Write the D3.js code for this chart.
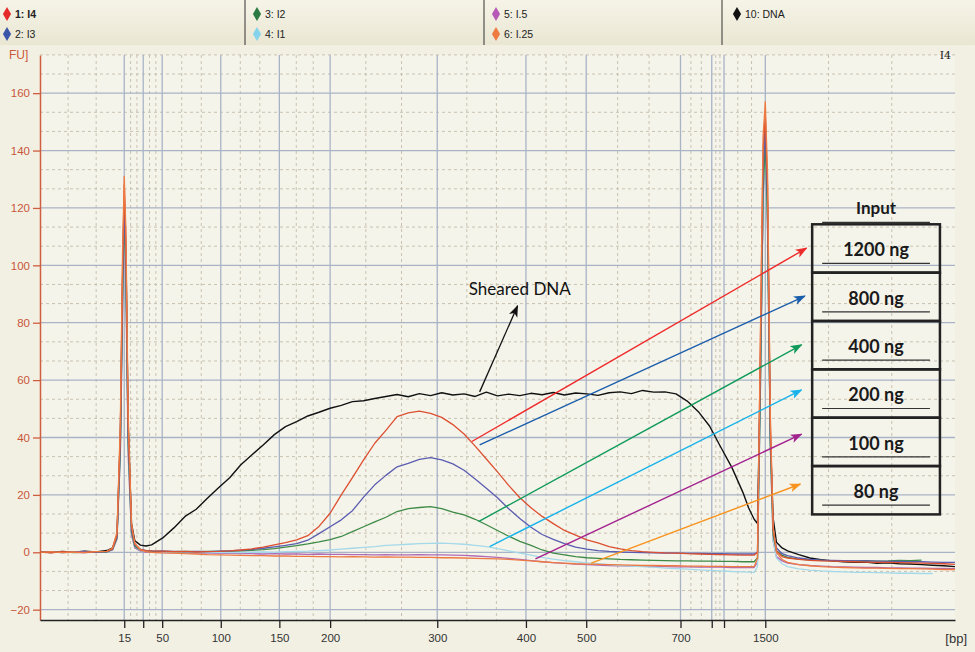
<!DOCTYPE html>
<html>
<head>
<meta charset="utf-8">
<script src="https://cdn.jsdelivr.net/npm/d3@7"></script>
<style>
  body { margin: 0; background: #f2f0e3; }
  svg { display: block; font-family: "Liberation Sans", Arial, sans-serif; }
</style>
</head>
<body>
<div id="chart"></div>
<script>
// migration time (s) of every sample, shared by all traces
const times = [
    35, 36, 37, 38, 39, 40, 41,
    41.5, 41.9, 42.2, 42.4, 42.55, 42.7, 42.9, 43.2, 43.5, 44, 44.5,
    45, 46, 47, 48, 49, 50, 51, 52, 53, 54,
    55, 56, 57, 58, 59, 60, 61, 62, 63, 64,
    65, 66, 67, 68, 69, 70, 71, 72, 73, 74,
    75, 76, 77, 78, 79, 80, 81, 82, 83, 84,
    85, 86, 87, 88, 89, 90, 91, 92, 93, 94,
    95, 96, 97, 98,
    98.5, 99, 99.3, 99.55, 99.8, 100, 100.2, 100.45, 100.7, 101, 101.5,
    102, 103, 104, 105, 106, 107, 108, 109, 110, 111, 112, 113, 114, 115, 116, 117
];

// fluorescence [FU] per sample
const dna = [
    0.2, -0.1, 0.3, 0, 0.4, 0.1, 0.6,
    1.5, 6, 40, 95, 124, 104, 45, 10, 4, 2.5, 2.2,
    2.6, 5, 8.5, 12.5, 15, 18.8, 22.5, 26, 30.5, 34,
    37.4, 41, 43.8, 45.5, 47.5, 48.8, 50.2, 51.2, 52.5, 52.8,
    53.6, 54.3, 55, 54.2, 55.3, 54.6, 55.6, 54.8, 55.2, 54.3,
    55.8, 54.5, 55.1, 54.6, 55.4, 54.9, 55.7, 54.8, 55.5, 55.2,
    54.7, 55.6, 55.9, 55.3, 56.4, 55.8, 55.9, 55.2, 52.7, 49,
    44, 36.7, 29.6, 20.8,
    15.5, 11.5, 10, 60, 125, 150, 120, 40, 12, 3.5, 1.5,
    0.5, -0.8, -2, -2.6, -3, -3.3, -3.5, -3.4, -3.8, -3.7, -4, -4.1, -4.3, -4.5, -4.7, -5
];
const i4 = [
    0.1, -0.2, 0.2, 0, -0.1, 0.2, 0.3,
    1.2, 6, 42, 100, 128, 108, 45, 9, 3, 1, 0.6,
    0.5, 0.4, 0.2, 0.3, 0.1, 0.2, 0.3, 0.5, 0.8, 1.2,
    1.8, 2.6, 3.4, 4.3, 5.8, 9, 13.6, 20, 26, 32.2,
    38, 42.5, 47.3, 48.6, 49.2, 48.4, 47, 44.5, 41.2, 37,
    32.5, 28, 23.3, 19, 15.5, 12.5, 10, 7.6, 6, 4.3,
    3.3, 2, 1.2, 0.6, 0.2, 0, -0.2, -0.3, -0.5, -0.6,
    -0.7, -0.8, -0.9, -1,
    -1, -1, 0, 70, 140, 152, 128, 45, 8, 0.5, -1.5,
    -2, -2.5, -2.8, -3, -3.1, -3.2, -3.3, -3.4, -3.5, -3.5, -3.6, -3.7, -3.8, -3.9, -4, -4.2
];
const i3 = [
    0, 0.2, -0.1, 0.1, 0.3, 0, 0.2,
    1, 5.5, 38, 92, 122, 100, 40, 8, 2.5, 1, 0.6,
    0.5, 0.4, 0.3, 0.2, 0.3, 0.2, 0.4, 0.5, 0.7, 1,
    1.4, 1.9, 2.4, 3, 4.2, 6.5, 8.9, 11.3, 14.5, 19.2,
    23.5, 26.8, 29.8, 31, 32.4, 33, 32.2, 30.8, 28.6, 25.5,
    22.3, 19, 15.2, 11.8, 8.7, 6.2, 4.5, 3, 1.8, 1.1,
    0.6, 0.3, 0.1, 0, -0.1, -0.2, -0.3, -0.3, -0.4, -0.4,
    -0.5, -0.5, -0.6, -0.6,
    -0.6, -0.6, 0, 62, 132, 148, 122, 42, 8, 1.5, -0.5,
    -1.2, -2, -2.5, -2.7, -2.8, -2.9, -3, -3, -3.1, -3.2, -3.2, -3.3, -3.3, -3.4, -3.5, -3.5
];
const i2 = [
    0.1, 0, 0.2, -0.1, 0.1, 0.2, 0.1,
    1, 5, 36, 88, 118, 96, 38, 7, 2, 0.8, 0.5,
    0.4, 0.3, 0.2, 0.3, 0.2, 0.3, 0.3, 0.4, 0.5, 0.7,
    0.9, 1.3, 1.8, 2.3, 2.9, 3.6, 4.4, 5.5, 7.2, 8.9,
    10.6, 12.2, 14.2, 15.2, 15.6, 15.9, 15.2, 14, 13, 11.5,
    9.6, 7.6, 5.6, 3.8, 2.4, 0.8, -0.3, -0.9, -1.5, -1.9,
    -2.1, -2.3, -2.5, -2.6, -2.7, -2.8, -2.9, -3, -3, -3.1,
    -3.1, -3.2, -3.2, -3.3,
    -3.3, -3.3, -2, 55, 125, 143, 115, 38, 6, 0.5, -1,
    -1.8, -2.4, -2.6, -2.8, -2.9, -3, -3, -2.9, -3.1, -3, -2.8, -2.9, -2.7, null, null, null
];
const i1 = [
    0, 0.1, -0.1, 0.2, 0, 0.1, 0.2,
    0.9, 5, 35, 86, 116, 94, 36, 7, 2, 0.6, 0.3,
    0.2, 0.1, 0, 0.1, -0.1, 0, -0.1, 0, -0.1, 0,
    0.1, 0, 0.2, 0.3, 0.4, 0.6, 0.8, 1.1, 1.4, 1.7,
    2, 2.4, 2.6, 2.8, 3, 3.1, 3.2, 3, 2.8, 2.4,
    2, 1.3, 0.5, -0.3, -1, -1.8, -2.4, -2.9, -3.3, -3.7,
    -4, -4.3, -4.6, -4.8, -5, -5.2, -5.5, -5.7, -5.9, -6.1,
    -6.3, -6.5, -6.7, -6.8,
    -6.9, -7, -5, 52, 122, 140, 112, 36, 4, -2, -4,
    -5, -5.8, -6.2, -6.5, -6.7, -6.8, -7, -7, -7.1, -7.2, -7.3, -7.3, -7.4, -7.4, null, null
];
const i05 = [
    0.1, 0, 0.2, 0, -0.1, 0.1, 0.2,
    0.8, 4.5, 34, 84, 114, 92, 34, 6, 1.5, 0.4, 0.1,
    0, -0.1, -0.2, -0.2, -0.3, -0.3, -0.4, -0.4, -0.5, -0.5,
    -0.6, -0.5, -0.6, -0.6, -0.7, -0.6, -0.7, -0.7, -0.8, -0.8,
    -0.9, -0.8, -0.9, -0.9, -0.8, -0.9, -0.9, -1, -1.1, -1.3,
    -1.5, -1.8, -2.1, -2.5, -2.9, -3.3, -3.6, -3.9, -4.1, -4.3,
    -4.5, -4.6, -4.7, -4.8, -4.9, -5, -5, -5.1, -5.1, -5.2,
    -5.2, -5.2, -5.3, -5.3,
    -5.3, -5.3, -3.5, 54, 123, 141, 113, 37, 4, -1.5, -3,
    -3.8, -4.3, -4.6, -4.8, -5, -5.1, -5.2, -5.3, -5.3, -5.4, -5.4, -5.5, -5.5, -5.6, -5.6, -5.7
];
const i025 = [
    0, 0.2, -0.1, 0.1, 0, 0.2, 0.3,
    1.5, 7, 45, 105, 131, 112, 48, 10, 3, 0.8, 0.2,
    0, -0.2, -0.3, -0.5, -0.6, -0.8, -0.9, -1, -1.1, -1.2,
    -1.2, -1.3, -1.3, -1.4, -1.4, -1.5, -1.5, -1.6, -1.5, -1.6,
    -1.7, -1.6, -1.7, -1.7, -1.8, -1.8, -1.9, -1.9, -2, -2.1,
    -2.2, -2.3, -2.5, -2.7, -3, -3.3, -3.6, -3.8, -4, -4.1,
    -4.2, -4.3, -4.4, -4.5, -4.6, -4.6, -4.7, -4.7, -4.8, -4.8,
    -4.9, -4.9, -5, -5,
    -5, -5, -2, 72, 145, 157, 132, 48, 9, 0, -2.5,
    -3.5, -4.3, -4.7, -5, -5.2, -5.3, -5.4, -5.5, -5.5, -5.6, -5.7, -5.7, -5.8, -5.9, -6, -6
];

// ladder: size in bp and its migration time
const ladderBp = [15, 25, 50, 100, 150, 200, 300, 400, 500, 700, 850, 1000, 1500];
const ladderTime = [42.55, 44.25, 45.95, 51.2, 56.45, 61.0, 70.6, 78.55, 83.95, 92.4, 95.2, 96.3, 100.0];
const ladderLabels = ["15", "", "50", "100", "150", "200", "300", "400", "500", "700", "", "", "1500"];
const yTicks = [-20, 0, 20, 40, 60, 80, 100, 120, 140, 160];

// legend
const sampleNames = ["1: I4", "2: I3", "3: I2", "4: I1", "5: I.5", "6: I.25", "10: DNA"];
const sampleValues = [i4, i3, i2, i1, i05, i025, dna];
const traceColors = ["#dc4f30", "#5a5cb0", "#3d8a46", "#a4d9ea", "#b06ab6", "#ee7a42", "#111111"];
const legendColors = ["#e52a2a", "#3b55a8", "#2a7a42", "#86d3ec", "#b75ab7", "#ef7a40", "#111111"];

// annotation: input amounts and arrows (time, FU)
const inputLabels = ["1200 ng", "800 ng", "400 ng", "200 ng", "100 ng", "80 ng"];
const arrowColors = ["#ee2b2b", "#1a5dab", "#0f9a5a", "#17b3ea", "#a3238f", "#f7931e"];
const arrowFrom = [[73.7, 38.6], [74.4, 37.4], [74.3, 10.7], [75.3, 2.0], [79.4, -2.3], [84.4, -3.8]];
const arrowTo = [[103.7, 106], [103.55, 89.3], [103.25, 72.3], [103.25, 56.6], [103.25, 41.2], [103.15, 23.8]];

const width = 975, height = 652;
const plot = { left: 40, right: 955, top: 55, bottom: 620 };

const svg = d3.select('#chart')
    .append('svg')
    .attr('width', width)
    .attr('height', height);

const defs = svg.append('defs');
const grad = defs.append('linearGradient').attr('id', 'bar').attr('x1', 0).attr('y1', 0).attr('x2', 0).attr('y2', 1);
grad.append('stop').attr('offset', '0%').attr('stop-color', '#f6f4e8');
grad.append('stop').attr('offset', '100%').attr('stop-color', '#e9e6d2');

svg.append('rect').attr('width', width).attr('height', height).attr('fill', '#f2f0e3');
svg.append('rect')
    .attr('x', plot.left).attr('y', plot.top)
    .attr('width', plot.right - plot.left).attr('height', plot.bottom - plot.top)
    .attr('fill', '#f5f4ea');

// scales
const x = d3.scaleLinear().domain([35, 117]).range([plot.left, plot.right]);
const y = d3.scaleLinear().domain([-23.6, 173.3]).range([plot.bottom, plot.top]);

// minor grid: each interval split in three
const bounds = [35, ...ladderTime, 117];
const minorX = [];
for (let i = 0; i < bounds.length - 1; i++) {
    const step = (bounds[i + 1] - bounds[i]) / 3;
    minorX.push(bounds[i] + step, bounds[i] + 2 * step);
}
const minorY = d3.range(-20, 174, 20 / 3).filter(v => Math.abs(v / 20 - Math.round(v / 20)) > 0.01);

const grid = svg.append('g');
grid.selectAll('.mx').data(minorX).join('line')
    .attr('x1', d => x(d)).attr('x2', d => x(d))
    .attr('y1', plot.top).attr('y2', plot.bottom)
    .attr('stroke', '#c9c2b2').attr('stroke-dasharray', '3,3');
grid.selectAll('.my').data(minorY).join('line')
    .attr('x1', plot.left).attr('x2', plot.right)
    .attr('y1', d => y(d)).attr('y2', d => y(d))
    .attr('stroke', '#c9c2b2').attr('stroke-dasharray', '3,3');
grid.selectAll('.Mx').data(ladderTime).join('line')
    .attr('x1', d => x(d)).attr('x2', d => x(d))
    .attr('y1', plot.top).attr('y2', plot.bottom)
    .attr('stroke', '#a9b3c6').attr('stroke-width', 1.3);
grid.selectAll('.My').data(yTicks).join('line')
    .attr('x1', plot.left).attr('x2', plot.right)
    .attr('y1', d => y(d)).attr('y2', d => y(d))
    .attr('stroke', '#a9b3c6').attr('stroke-width', 1.3);

// traces
defs.append('clipPath').attr('id', 'clip')
    .append('rect')
    .attr('x', plot.left).attr('y', plot.top)
    .attr('width', plot.right - plot.left).attr('height', plot.bottom - plot.top);

const line = d3.line()
    .defined(d => d[1] !== null)
    .x(d => x(d[0]))
    .y(d => y(d[1]));

const drawOrder = [6, 4, 3, 2, 1, 0, 5];
const traces = svg.append('g').attr('clip-path', 'url(#clip)');
drawOrder.forEach(k => {
    traces.append('path')
        .datum(times.map((t, i) => [t, sampleValues[k][i]]))
        .attr('d', line)
        .attr('fill', 'none')
        .attr('stroke', traceColors[k])
        .attr('stroke-width', k === 6 ? 1.4 : 1.3)
        .attr('stroke-linejoin', 'round');
});

// axes
const yAxis = svg.append('g')
    .attr('transform', `translate(${plot.left},0)`)
    .call(d3.axisLeft(y).tickValues(yTicks).tickSize(7).tickSizeOuter(0).tickPadding(3));
yAxis.select('.domain').attr('stroke', '#cf5d3f').attr('stroke-width', 1.5);
yAxis.selectAll('.tick line').attr('stroke', '#cf5d3f').attr('stroke-width', 1.3);
yAxis.selectAll('.tick text').attr('fill', '#c9563a').style('font-size', '11.5px').style('font-family', '"Liberation Sans", Arial, sans-serif');

const xAxis = svg.append('g')
    .attr('transform', `translate(0,${plot.bottom})`)
    .call(d3.axisBottom(x).tickValues(ladderTime).tickFormat((d, i) => ladderLabels[i]).tickSize(8).tickSizeOuter(0).tickPadding(6));
xAxis.select('.domain').attr('stroke', '#222').attr('stroke-width', 1.6);
xAxis.selectAll('.tick line').attr('stroke', '#222').attr('stroke-width', 1.3);
xAxis.selectAll('.tick text').attr('fill', '#333').style('font-size', '11.5px').style('font-family', '"Liberation Sans", Arial, sans-serif');

svg.append('text').attr('x', 9).attr('y', 59).attr('fill', '#cc5a3c').style('font-size', '12px').text('FU]');
svg.append('text').attr('x', 967).attr('y', 643).attr('text-anchor', 'end').attr('fill', '#333').style('font-size', '13px').text('[bp]');
svg.append('text').attr('x', 951).attr('y', 59).attr('text-anchor', 'end').attr('fill', '#222')
    .style('font-family', '"DejaVu Serif", serif').style('font-size', '11px').text('I4');

// legend bar
svg.append('rect').attr('width', width).attr('height', 45).attr('fill', 'url(#bar)');
[245, 484, 722].forEach(sx => {
    svg.append('line').attr('x1', sx).attr('x2', sx).attr('y1', 0).attr('y2', 45).attr('stroke', '#333');
});
const legendCol = [0, 0, 1, 1, 2, 2, 3];
const legendRow = [0, 1, 0, 1, 0, 1, 0];
const colX = [7, 257, 496, 737];
const rowY = [14, 34];
const legend = svg.append('g');
sampleNames.forEach((name, k) => {
    const g = legend.append('g')
        .attr('transform', `translate(${colX[legendCol[k]]},${rowY[legendRow[k]]})`);
    g.append('path')
        .attr('d', d3.symbol(d3.symbolDiamond, 58)())
        .attr('fill', legendColors[k]);
    g.append('text')
        .attr('x', 8).attr('dy', '0.35em')
        .attr('fill', '#222')
        .style('font-size', '10.5px')
        .style('font-weight', k === 0 ? 'bold' : 'normal')
        .text(name);
});

// arrows
arrowColors.concat(['#111']).forEach((c, i) => {
    defs.append('marker')
        .attr('id', 'arrow' + i)
        .attr('markerUnits', 'userSpaceOnUse')
        .attr('markerWidth', 12).attr('markerHeight', 10)
        .attr('refX', 11).attr('refY', 4.5)
        .attr('orient', 'auto')
        .append('path')
        .attr('d', 'M0,0 L12,4.5 L0,9 L3,4.5 Z')
        .attr('fill', c);
});
const notes = svg.append('g');
arrowColors.forEach((c, i) => {
    notes.append('line')
        .attr('x1', x(arrowFrom[i][0])).attr('y1', y(arrowFrom[i][1]))
        .attr('x2', x(arrowTo[i][0])).attr('y2', y(arrowTo[i][1]))
        .attr('stroke', c).attr('stroke-width', 1.4)
        .attr('marker-end', `url(#arrow${i})`);
});
notes.append('line')
    .attr('x1', x(74.4)).attr('y1', y(55.9))
    .attr('x2', x(77.8)).attr('y2', y(85.9))
    .attr('stroke', '#111').attr('stroke-width', 1.3)
    .attr('marker-end', `url(#arrow${arrowColors.length})`);
notes.append('text')
    .attr('x', x(78.0)).attr('y', y(89.5))
    .attr('text-anchor', 'middle')
    .attr('fill', '#111')
    .style('font-family', 'Lato, "Open Sans", sans-serif')
    .style('font-size', '17px')
    .text('Sheared DNA');

// input table
const tLeft = x(104.2), tRight = x(115.65);
const rows = d3.scaleBand().domain(inputLabels).range([y(114.3), y(13.2)]);
const table = svg.append('g').style('font-family', 'Lato, "Open Sans", sans-serif');
table.append('text')
    .attr('x', (tLeft + tRight) / 2).attr('y', rows.range()[0] - 10)
    .attr('text-anchor', 'middle').attr('fill', '#1a1a1a')
    .style('font-size', '17px').style('font-weight', 'bold')
    .text('Input');
table.append('line')
    .attr('x1', tLeft + 10).attr('x2', tRight - 10)
    .attr('y1', rows.range()[0] - 2).attr('y2', rows.range()[0] - 2)
    .attr('stroke', '#333').attr('stroke-width', 1.2);
inputLabels.forEach(lbl => {
    const top = rows(lbl), h = rows.bandwidth();
    table.append('rect')
        .attr('x', tLeft).attr('y', top)
        .attr('width', tRight - tLeft).attr('height', h)
        .attr('fill', 'none').attr('stroke', '#222').attr('stroke-width', 2.5);
    table.append('text')
        .attr('x', (tLeft + tRight) / 2).attr('y', top + h * 0.66)
        .attr('text-anchor', 'middle').attr('fill', '#1a1a1a')
        .style('font-size', '18px').style('font-weight', 'bold')
        .text(lbl);
    table.append('line')
        .attr('x1', tLeft + 10).attr('x2', tRight - 10)
        .attr('y1', top + h * 0.81).attr('y2', top + h * 0.81)
        .attr('stroke', '#333').attr('stroke-width', 1.2);
});
</script>
</body>
</html>
